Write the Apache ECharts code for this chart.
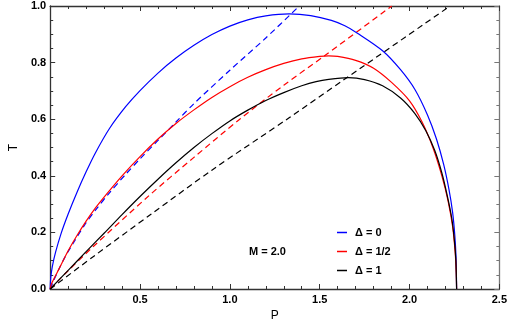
<!DOCTYPE html>
<html>
<head>
<meta charset="utf-8">
<script src="https://cdn.jsdelivr.net/npm/echarts@6/dist/echarts.min.js"></script>
<style>
html,body{margin:0;padding:0;background:#fff;}
#chart{width:510px;height:327px;}
</style>
</head>
<body>
<div id="chart"></div>
<script>
// ---- data ----
const seriesNames = ['Δ = 0', 'Δ = 1/2', 'Δ = 1'];
const annotation = 'M = 2.0';
const xTicks = [0.5, 1.0, 1.5, 2.0, 2.5];
const yTicks = [0.0, 0.2, 0.4, 0.6, 0.8, 1.0];

// solid curves
const blueP = [0, 0.003, 0.012, 0.03, 0.06, 0.1, 0.15, 0.2, 0.25, 0.33, 0.42, 0.5, 0.6, 0.7, 0.8, 0.9, 1.0, 1.1, 1.2, 1.33, 1.45, 1.565, 1.64, 1.71, 1.85, 1.95, 2.03, 2.1, 2.15, 2.19, 2.22, 2.24, 2.252, 2.259, 2.262];
const blueT = [0, 0.04, 0.08, 0.13, 0.195, 0.265, 0.343, 0.414, 0.479, 0.567, 0.644, 0.701, 0.763, 0.816, 0.861, 0.899, 0.929, 0.951, 0.965, 0.972, 0.966, 0.949, 0.93, 0.904, 0.842, 0.775, 0.705, 0.615, 0.53, 0.44, 0.35, 0.27, 0.19, 0.11, 0];

const redP = [0, 0.005, 0.02, 0.05, 0.1, 0.15, 0.2, 0.25, 0.3, 0.4, 0.5, 0.6, 0.7, 0.8, 0.9, 1.0, 1.1, 1.2, 1.3, 1.4, 1.5, 1.55, 1.6, 1.7, 1.8, 1.9, 2.0, 2.07, 2.13, 2.18, 2.215, 2.24, 2.254, 2.26, 2.262];
const redT = [0, 0.015, 0.035, 0.072, 0.135, 0.19, 0.24, 0.285, 0.325, 0.4, 0.468, 0.53, 0.585, 0.633, 0.677, 0.715, 0.748, 0.775, 0.797, 0.813, 0.822, 0.824, 0.822, 0.808, 0.78, 0.73, 0.665, 0.59, 0.5, 0.4, 0.31, 0.22, 0.13, 0.06, 0];

const blackP = [0, 0.1, 0.2, 0.3, 0.4, 0.5, 0.6, 0.7, 0.8, 0.9, 1.0, 1.1, 1.2, 1.3, 1.4, 1.48, 1.55, 1.66, 1.75, 1.85, 1.95, 2.03, 2.09, 2.14, 2.18, 2.21, 2.235, 2.25, 2.258, 2.262];
const blackT = [0, 0.066, 0.132, 0.197, 0.263, 0.327, 0.388, 0.446, 0.5, 0.549, 0.594, 0.632, 0.666, 0.694, 0.718, 0.733, 0.741, 0.747, 0.74, 0.718, 0.675, 0.62, 0.56, 0.49, 0.41, 0.33, 0.25, 0.17, 0.1, 0];

// dashed curves
const blueDashP = [0, 0.03, 0.08, 0.134, 0.19, 0.26, 0.33, 0.42, 0.5, 0.6, 0.7, 0.8, 1.0, 1.2, 1.386];
const blueDashT = [0, 0.045, 0.11, 0.168, 0.225, 0.285, 0.34, 0.405, 0.46, 0.525, 0.59, 0.655, 0.773, 0.887, 1.0];

const redDashP = [0, 0.08, 0.24, 0.55, 0.8, 1.055, 1.3, 1.529, 1.901];
const redDashT = [0, 0.052, 0.15, 0.33, 0.465, 0.6, 0.72, 0.825, 1.0];

const blackDashP = [0, 0.241, 0.563, 0.9, 1.332, 1.636, 2.226];
const blackDashT = [0, 0.115, 0.265, 0.42, 0.606, 0.74, 1.0];

// ---- build chart ----
function pairs(xs, ys) { return xs.map((x, i) => [x, ys[i]]); }
const FONT = 'Liberation Sans, Arial, sans-serif';
const frameColor = '#333';

function xAx(pos, showLabel) {
  return {
    type: 'value', position: pos, min: 0, max: 2.5, interval: 0.5,
    axisLine: { show: true, onZero: false, lineStyle: { color: frameColor, width: 1.3 } },
    axisTick: { show: true, inside: true, length: 5, lineStyle: { color: frameColor } },
    minorTick: { show: true, splitNumber: 5, length: 3, lineStyle: { color: frameColor } },
    splitLine: { show: false }, minorSplitLine: { show: false },
    axisLabel: {
      show: showLabel, margin: 5, color: '#000', fontFamily: FONT, fontWeight: 'bold', fontSize: 11,
      formatter: v => (xTicks.some(t => Math.abs(t - v) < 1e-9) ? v.toFixed(1) : '')
    },
    name: showLabel ? 'P' : '', nameLocation: 'middle', nameGap: 21,
    nameTextStyle: { color: '#000', fontFamily: FONT, fontSize: 12 }
  };
}
function yAx(pos, showLabel) {
  const c = pos === 'right' ? '#777' : frameColor;
  return {
    type: 'value', position: pos, min: 0, max: 1.0, interval: 0.2,
    axisLine: { show: true, onZero: false, lineStyle: { color: c, width: 1.3 } },
    axisTick: { show: true, inside: true, length: 5, lineStyle: { color: c } },
    minorTick: { show: true, splitNumber: 4, length: 3, lineStyle: { color: c } },
    splitLine: { show: false }, minorSplitLine: { show: false },
    axisLabel: {
      show: showLabel, margin: 4, color: '#000', fontFamily: FONT, fontWeight: 'bold', fontSize: 11,
      formatter: v => (yTicks.some(t => Math.abs(t - v) < 1e-9) ? v.toFixed(1) : '')
    },
    name: showLabel ? 'T' : '', nameLocation: 'middle', nameGap: 28, nameRotate: 90,
    nameTextStyle: { color: '#000', fontFamily: FONT, fontSize: 12 }
  };
}

function solid(name, color, xs, ys) {
  return {
    name: name, type: 'line', data: pairs(xs, ys), showSymbol: false, symbol: 'none',
    smooth: 0.3, lineStyle: { color: color, width: 1.2 }, itemStyle: { color: color },
    xAxisIndex: 0, yAxisIndex: 0, z: 3
  };
}
function dashed(name, color, xs, ys) {
  return {
    name: name, type: 'line', data: pairs(xs, ys), showSymbol: false, symbol: 'none',
    smooth: 0.3, lineStyle: { color: color, width: 1.2, type: [6, 4] }, itemStyle: { color: color },
    xAxisIndex: 0, yAxisIndex: 0, z: 2
  };
}

const chart = echarts.init(document.getElementById('chart'), null, { renderer: 'canvas' });
chart.setOption({
  animation: false,
  backgroundColor: '#fff',
  grid: { left: 35, right: 9, top: 6, bottom: 32, containLabel: false },
  xAxis: [xAx('bottom', true), xAx('top', false)],
  yAxis: [yAx('left', true), yAx('right', false)],
  legend: {
    data: seriesNames.map(n => ({ name: n, icon: 'rect' })),
    orient: 'vertical', left: 332, top: 222,
    itemWidth: 10, itemHeight: 1.5, itemGap: 8,
    textStyle: { color: '#000', fontFamily: FONT, fontWeight: 'bold', fontSize: 11, padding: [0, 0, 0, 3] },
    selectedMode: false
  },
  graphic: [{
    type: 'text', left: 249, top: 246,
    style: { text: annotation, fill: '#000', font: 'bold 11px ' + FONT }
  }],
  series: [
    dashed('dash0', '#0000ff', blueDashP, blueDashT),
    dashed('dash1', '#ff0000', redDashP, redDashT),
    dashed('dash2', '#000000', blackDashP, blackDashT),
    solid(seriesNames[0], '#0000ff', blueP, blueT),
    solid(seriesNames[1], '#ff0000', redP, redT),
    solid(seriesNames[2], '#000000', blackP, blackT)
  ]
});
</script>
</body>
</html>
